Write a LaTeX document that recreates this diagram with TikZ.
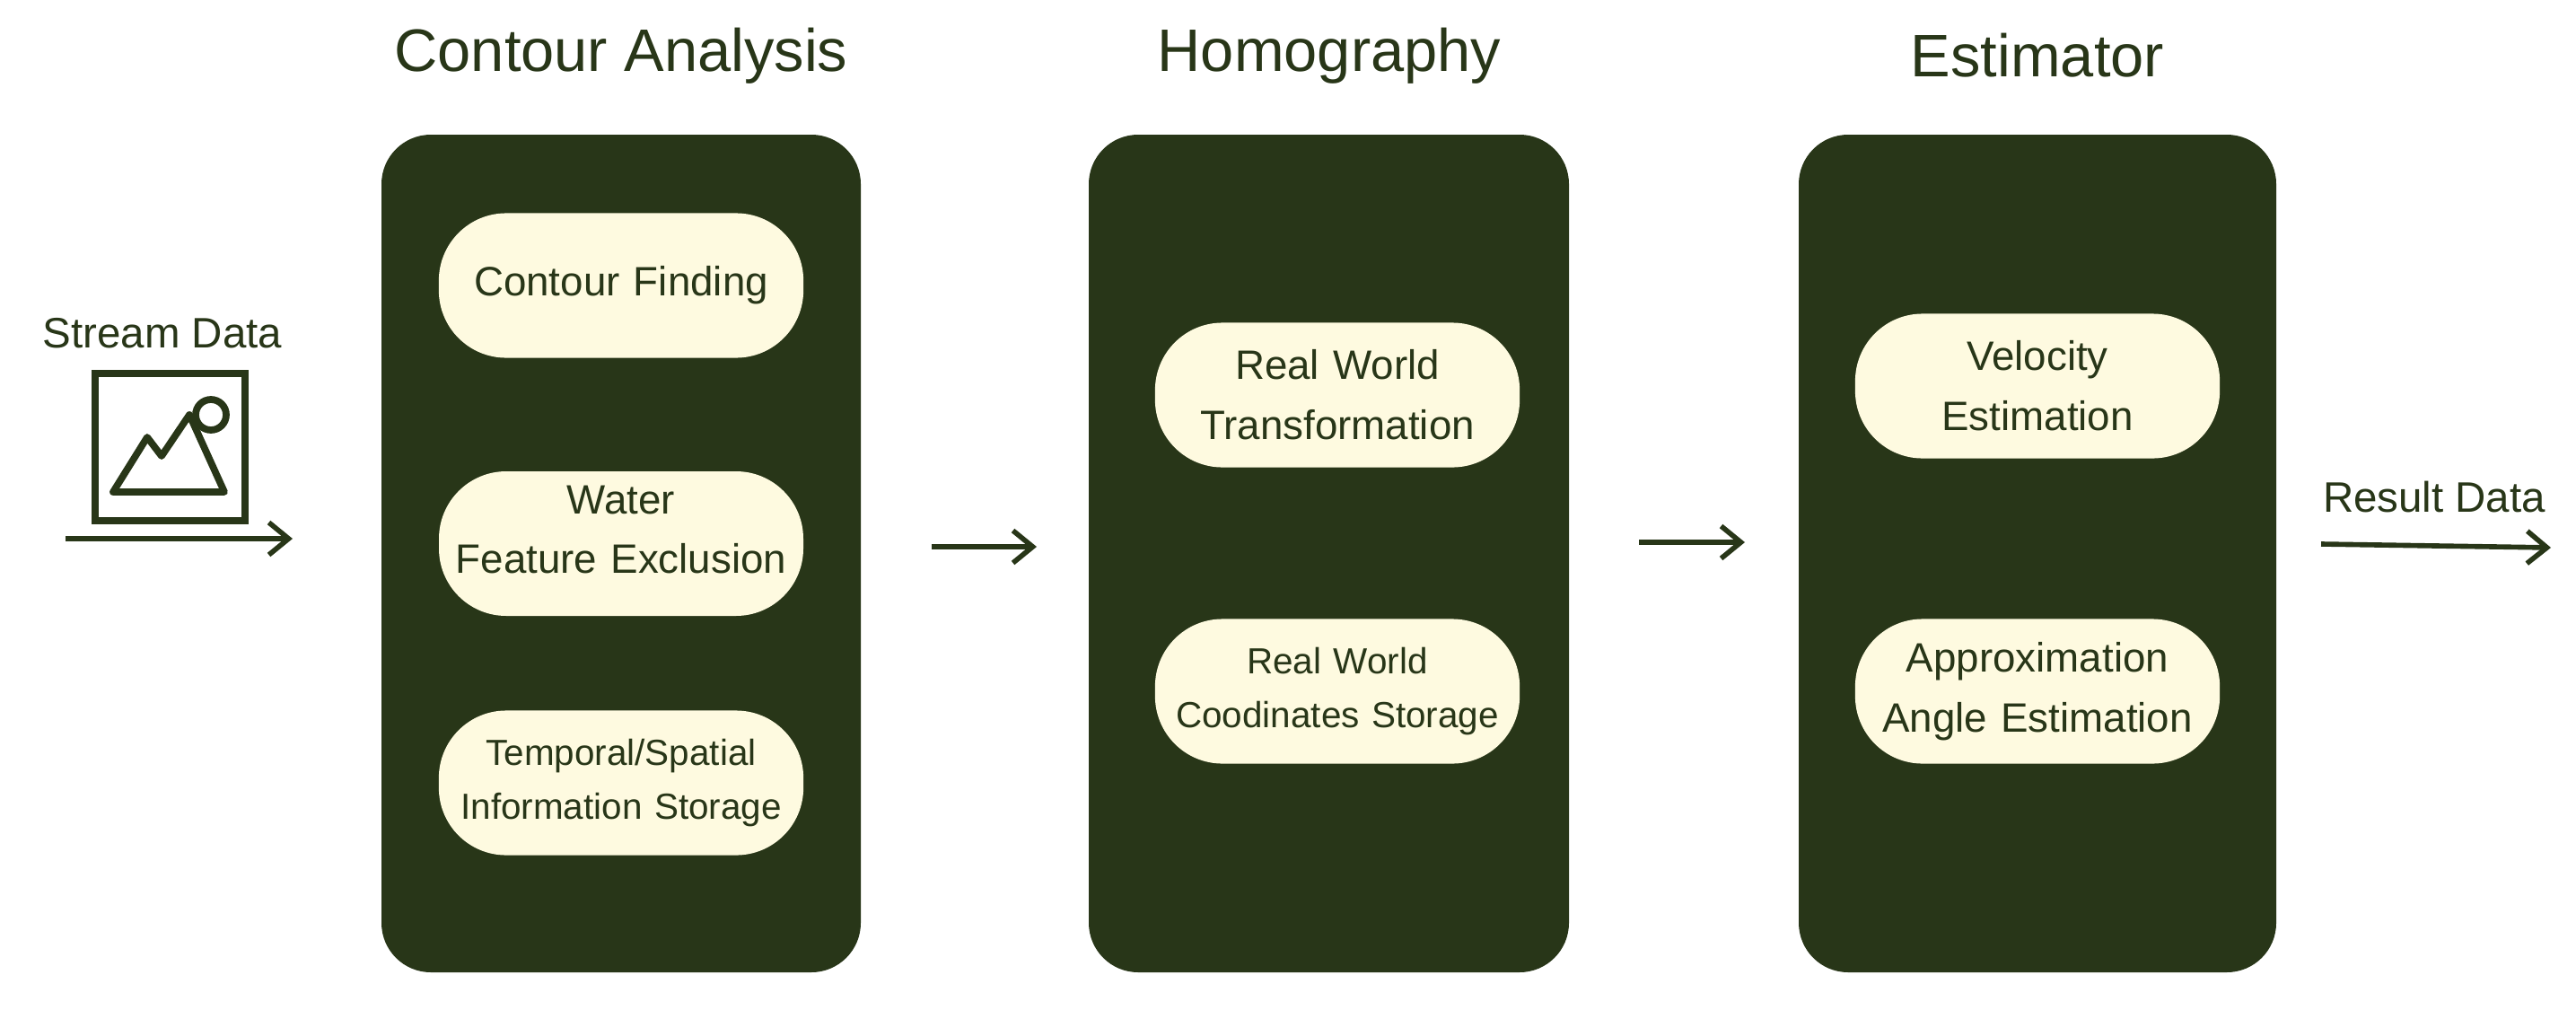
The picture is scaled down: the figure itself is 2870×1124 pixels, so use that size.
\documentclass[tikz,border=0pt]{standalone}
\usepackage{fontspec}
\setmainfont{Liberation Sans}
\usetikzlibrary{arrows.meta}
\definecolor{dk}{HTML}{283618}
\definecolor{cr}{HTML}{FEFAE0}
\begin{document}
\begin{tikzpicture}[x=0.01cm,y=-0.01cm,
 panel/.style={fill=dk,draw=none,rounded corners=0.55cm},
 item/.style={fill=cr,draw=none,rounded corners=0.75cm,minimum width=4.06cm,minimum height=1.61cm,text width=4.06cm,text=dk,font=\fontsize{13}{19}\selectfont,align=center,inner sep=0pt},
 small/.style={font=\fontsize{11.5}{17}\selectfont},
 title/.style={text=dk,font=\fontsize{19}{23}\selectfont},
 lab/.style={text=dk,font=\fontsize{13.5}{16}\selectfont},
 arr/.style={draw=dk,line width=1.6pt,-{Straight Barb[length=2.2mm,width=3.6mm]}}]
\useasboundingbox (0,0) rectangle (2870,1124);
\fill[white] (0,0) rectangle (2870,1124);
\fill[panel] (425,150) rectangle (959,1083);
\fill[panel] (1213,150) rectangle (1748,1083);
\fill[panel] (2004,150) rectangle (2536,1083);
\node[title] (t1) at (692,62) {Contour Analysis};
\node[title] (t2) at (1481,62) {Homography};
\node[title] (t3) at (2270,62) {Estimator};
\node[item] (a1) at (692,318) {Contour Finding};
\fill[cr,rounded corners=0.75cm] (489,525) rectangle (895,686);
\node[item,fill=none] (a2) at (692,590) {Water\\Feature Exclusion};
\node[item,small] (a3) at (692,872) {Temporal/Spatial\\Information Storage};
\node[item] (b1) at (1490,440) {Real World\\Transformation};
\node[item,small] (b2) at (1490,770) {Real World\\Coodinates Storage};
\node[item] (c1) at (2270,430) {Velocity\\Estimation};
\node[item] (c2) at (2270,770) {Approximation\\Angle Estimation};
\node[lab] (sd) at (181,371) {Stream Data};
\node[lab] (rd) at (2712,554) {Result Data};
% icon
\draw[dk,line width=2.2pt] (106,416) rectangle (273,580);
\draw[dk,line width=2.2pt,line join=round] (126,548) -- (164,487) -- (180,508) -- (211,462) -- (250,548) -- cycle;
\draw[dk,line width=2.2pt] (235,462) circle (17);
\coordinate (i0) at (73,600); \coordinate (i1) at (326,600);
\coordinate (p0) at (1038,609); \coordinate (p1) at (1155,609);
\coordinate (q0) at (1826,604); \coordinate (q1) at (1944,604);
\coordinate (o0) at (2586,606); \coordinate (o1) at (2842,610);
\draw[arr] (i0) -- (i1);
\draw[arr] (p0) -- (p1);
\draw[arr] (q0) -- (q1);
\draw[arr] (o0) -- (o1);
\end{tikzpicture}
\end{document}
